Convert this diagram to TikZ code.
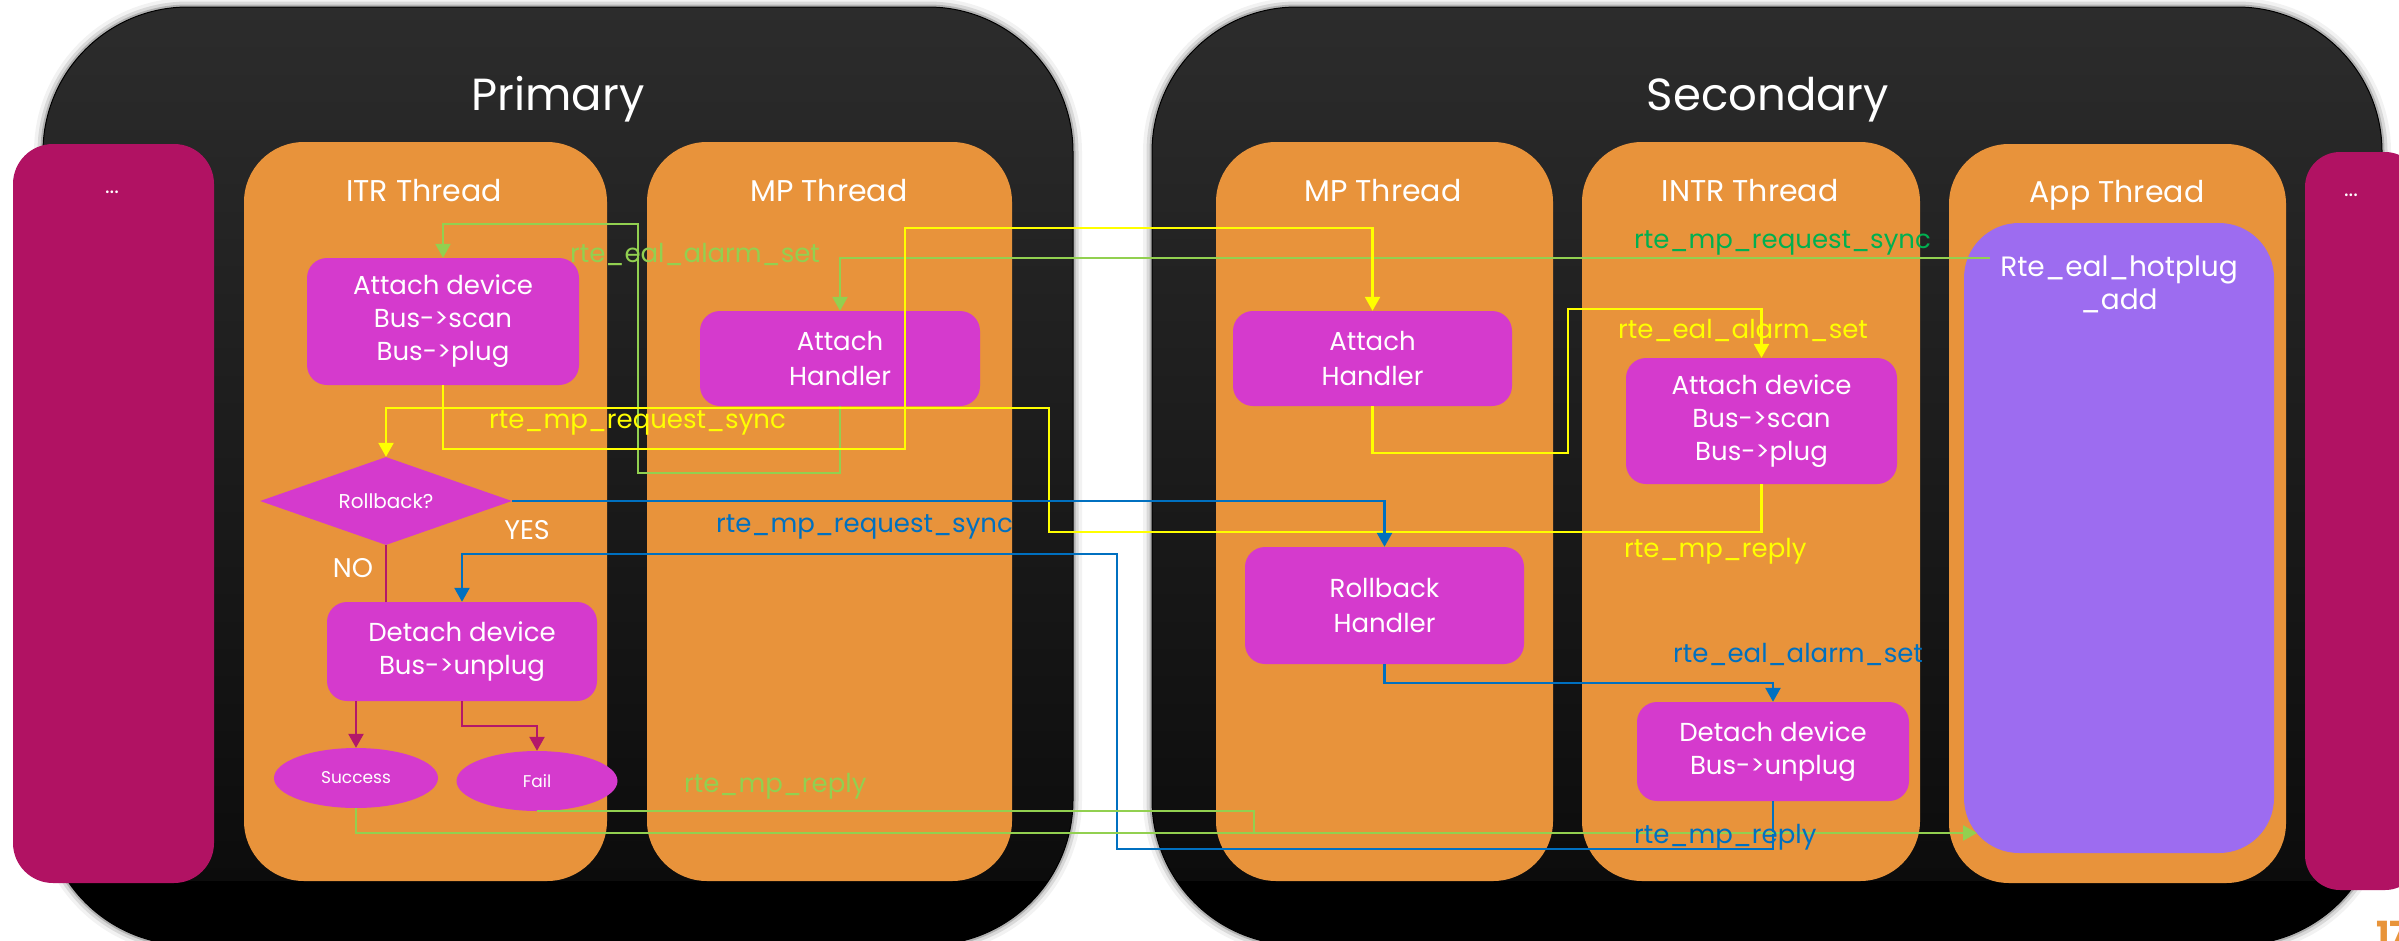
\documentclass[tikz,border=0pt]{standalone}
\usepackage{fontspec}
\setmainfont{Poppins}
\usetikzlibrary{arrows.meta,shapes.geometric}

\definecolor{panelTop}{HTML}{2C2C2C}
\definecolor{panelBot}{HTML}{0C0C0C}
\definecolor{sideM}{HTML}{B11263}
\definecolor{thrO}{HTML}{E8933B}
\definecolor{procM}{HTML}{D53ACD}
\definecolor{appP}{HTML}{9D6CF0}
\definecolor{lnY}{HTML}{FFFF00}
\definecolor{lnG}{HTML}{92D050}
\definecolor{lnDG}{HTML}{00B050}
\definecolor{lnB}{HTML}{0070C0}
\definecolor{lnR}{HTML}{B3186A}
\definecolor{numO}{HTML}{E8943A}

\tikzset{
  sidebox/.style={fill=sideM, rounded corners=40pt, inner sep=0pt},
  thread/.style={fill=thrO, rounded corners=60pt, inner sep=0pt},
  proc/.style={fill=procM, rounded corners=20pt, inner sep=0pt, align=center,
    text=white, font=\fontsize{26}{33}\selectfont},
  title/.style={text=white, inner sep=0pt, anchor=base, font=\fontsize{45}{50}\selectfont},
  thlab/.style={text=white, inner sep=0pt, anchor=base, font=\fontsize{30}{34}\selectfont},
  dots/.style={text=white, inner sep=0pt, font=\fontsize{22}{24}\selectfont},
  msg/.style={inner sep=0pt, anchor=base west, font=\fontsize{26}{30}\selectfont},
  wire/.style={line width=2.5pt},
  arr/.style={-{Triangle[length=14pt,width=15pt]}},
}

\begin{document}
\begin{tikzpicture}[x=1pt,y=-1pt]
\useasboundingbox (0,0) rectangle (2399,940);
\fill[white] (0,0) rectangle (2399,940);

% the two process panels: soft halo, gradient body, black foot
\foreach \xa/\xb in {43/1073, 1152/2382} {
  \draw[black, opacity=0.05, line width=18pt, rounded corners=145pt] (\xa,7) rectangle (\xb,945);
  \draw[black, opacity=0.10, line width=11pt, rounded corners=145pt] (\xa,7) rectangle (\xb,945);
  \draw[black, opacity=0.18, line width=5pt, rounded corners=145pt] (\xa,7) rectangle (\xb,945);
  \begin{scope}
    \clip[rounded corners=145pt] (\xa,7) rectangle (\xb,945);
    \shade[top color=panelTop, bottom color=panelBot] (\xa,6) rectangle (\xb,881);
    \fill[black] (\xa,881) rectangle (\xb,946);
  \end{scope}
  \draw[black, line width=1pt, rounded corners=145pt] (\xa,7) rectangle (\xb,945);
}

\node[title] (tPrim) at (558,110) {Primary};
\node[title] (tSec) at (1768,110) {Secondary};

% side boxes
\node[sidebox, minimum width=201pt, minimum height=739pt] (sideL) at (113.5,513.5) {};
\node[dots] (dotsL) at (112,192) {...};
\node[sidebox, rounded corners=35pt, minimum width=115pt, minimum height=738pt] (sideR) at (2362.5,521) {};
\node[dots] (dotsR) at (2351,195) {...};

% thread columns
\node[thread, minimum width=363pt, minimum height=739pt] (thITR) at (425.5,511.5) {};
\node[thread, minimum width=365pt, minimum height=739pt] (thPMP) at (829.5,511.5) {};
\node[thread, minimum width=337pt, minimum height=739pt] (thSMP) at (1384.5,511.5) {};
\node[thread, minimum width=338pt, minimum height=739pt] (thINTR) at (1751,511.5) {};
\node[thread, minimum width=337pt, minimum height=739pt] (thApp) at (2117.5,513.5) {};
\node[thlab] (lITR) at (424,201) {ITR Thread};
\node[thlab] (lPMP) at (829,201) {MP Thread};
\node[thlab] (lSMP) at (1383,201) {MP Thread};
\node[thlab] (lINTR) at (1750,201) {INTR Thread};
\node[thlab] (lApp) at (2117,202) {App Thread};

% application area
\node[fill=appP, rounded corners=55pt, inner sep=0pt, minimum width=310pt, minimum height=630pt] (hot) at (2119,538) {};
\node[text=white, inner sep=0pt, anchor=north, align=center, font=\fontsize{28}{33}\selectfont] (hotTxt) at (2119,256) {Rte\_eal\_hotplug\\\_add};
\coordinate (appout) at (1990,258);
\coordinate (hotin) at (1977,833);

% primary side steps
\node[proc, minimum width=272pt, minimum height=127pt] (pAtt) at (443,321.5) {Attach device\\Bus->scan\\Bus->plug};
\node[proc, minimum width=280pt, minimum height=95pt, font=\fontsize{26}{35}\selectfont] (pAH) at (840,358.5) {Attach\\Handler};
\node[draw=none, fill=procM, shape=diamond, aspect=3, inner sep=0pt, minimum width=252pt, minimum height=88pt,
      text=white, font=\fontsize{20}{22}\selectfont] (pRb) at (386,501) {Rollback?};
\node[proc, minimum width=270pt, minimum height=99pt] (pDet) at (462,651.5) {Detach device\\Bus->unplug};
\node[fill=procM, ellipse, inner sep=0pt, minimum width=164pt, minimum height=60pt, text=white,
      font=\fontsize{17}{19}\selectfont] (pSuc) at (356,778) {Success};
\node[fill=procM, ellipse, inner sep=0pt, minimum width=161pt, minimum height=60pt, text=white,
      font=\fontsize{17}{19}\selectfont] (pFail) at (537,781) {Fail};
\node[text=white, inner sep=0pt, font=\fontsize{27}{30}\selectfont] (yes) at (527,530) {YES};
\node[text=white, inner sep=0pt, font=\fontsize{27}{30}\selectfont] (no) at (353,568) {NO};

% secondary side steps
\node[proc, minimum width=279pt, minimum height=95pt, font=\fontsize{26}{35}\selectfont] (sAH) at (1372.5,358.5) {Attach\\Handler};
\node[proc, minimum width=271pt, minimum height=126pt] (sAtt) at (1761.5,421) {Attach device\\Bus->scan\\Bus->plug};
\node[proc, minimum width=279pt, minimum height=117pt, font=\fontsize{26}{35}\selectfont] (sRb) at (1384.5,605.5) {Rollback\\Handler};
\node[proc, minimum width=272pt, minimum height=99pt] (sDet) at (1773,751.5) {Detach device\\Bus->unplug};

% local flow inside the ITR thread
\draw[wire, lnR] (pRb.south) -- (pRb.south |- pDet.north);
\draw[wire, lnR, arr] (pSuc.north |- pDet.south) -- (pSuc.north);
\draw[wire, lnR, arr] (pDet.south) |- (pFail.north |- 0,726) -- (pFail.north);

% hotplug request from the application
\draw[wire, lnG, arr] (appout) -| (pAH.north);

% primary alarm into the ITR thread
\draw[wire, lnG, arr] (pAH.south) -- (pAH.south |- 0,473) -| (638,224) -| (pAtt.north);

% attach request / reply round trip
\draw[wire, lnY, arr] (pAtt.south) |- (905,449) |- (sAH.north |- 0,228) -- (sAH.north);
\draw[wire, lnY, arr] (sAH.south) |- (1568,453) |- (sAtt.north |- 0,309) -- (sAtt.north);
\draw[wire, lnY, arr] (sAtt.south) |- (1049,532) |- (pRb.north |- 0,408) -- (pRb.north);

% rollback request / reply round trip
\draw[wire, lnB, arr] (pRb.east) -| (sRb.north);
\draw[wire, lnB, arr] (sRb.south) |- (sDet.north |- 0,683) -- (sDet.north);
\draw[wire, lnB, arr] (sDet.south) |- (1117,849) |- (pDet.north |- 0,554) -- (pDet.north);

% final reply back to the application
\draw[wire, lnG] (pFail.south) -| (1254,833);
\draw[wire, lnG, arr] (pSuc.south) |- (hotin);

% message labels
\node[msg, text=lnG] (mGa) at (570,262) {rte\_eal\_alarm\_set};
\node[msg, text=lnY] (mYq) at (489,428) {rte\_mp\_request\_sync};
\node[msg, text=lnB] (mBq) at (716,532) {rte\_mp\_request\_sync};
\node[msg, text=lnG] (mGr) at (684,792) {rte\_mp\_reply};
\node[msg, text=lnDG] (mDq) at (1634,248) {rte\_mp\_request\_sync};
\node[msg, text=lnY] (mYa) at (1618,338) {rte\_eal\_alarm\_set};
\node[msg, text=lnY] (mYr) at (1624,557) {rte\_mp\_reply};
\node[msg, text=lnB] (mBa) at (1673,662) {rte\_eal\_alarm\_set};
\node[msg, text=lnB] (mBr) at (1634,843) {rte\_mp\_reply};

% page number, running off the corner of the page
\node[anchor=north west, inner sep=0pt, text=numO, font=\bfseries\fontsize{36}{36}\selectfont] (pageNo) at (2376,921) {17};
\end{tikzpicture}
\end{document}
